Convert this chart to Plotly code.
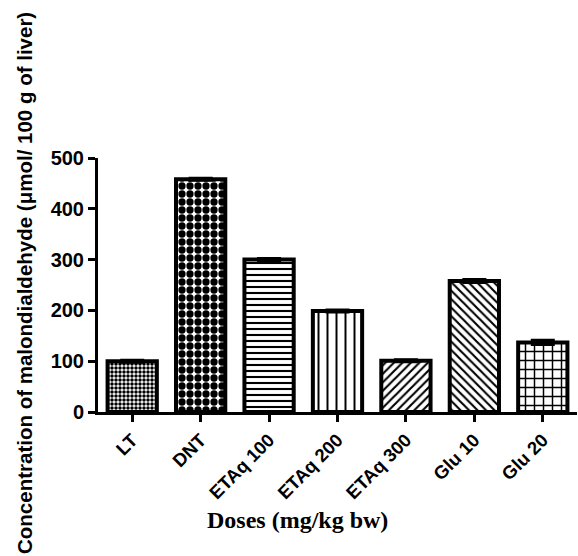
import plotly.graph_objects as go

categories = ["LT", "DNT", "ETAq 100", "ETAq 200", "ETAq 300", "Glu 10", "Glu 20"]
values = [100, 458, 300, 199, 101, 258, 137]
errors = [2, 2, 2, 2, 2, 3, 4]
patterns = [".", ".", "-", "|", "/", "\\", "+"]
pattern_sizes = [4, 8, 6, 9, 6, 6, 9]
pattern_solidity = [0.6, 0.65, 0.35, 0.22, 0.35, 0.35, 0.3]

y_ticks = [0, 100, 200, 300, 400, 500]
y_title = "Concentration of malondialdehyde (\u03bcmol/ 100 g of liver)"
x_title = "Doses (mg/kg bw)"

fig = go.Figure()
fig.add_trace(go.Bar(
    x=categories,
    y=values,
    width=0.72,
    marker=dict(
        color="white",
        line=dict(color="black", width=4),
        pattern=dict(
            shape=patterns,
            size=pattern_sizes,
            solidity=pattern_solidity,
            fgcolor="black",
            bgcolor="white",
            fgopacity=1,
            fillmode="overlay",
        ),
    ),
    error_y=dict(type="data", array=errors, visible=True, color="black",
                 thickness=3, width=12),
    showlegend=False,
))

sans = "Liberation Sans, Arial, sans-serif"
serif = "Liberation Serif, Times New Roman, serif"

fig.update_layout(
    width=578, height=556,
    margin=dict(l=98, r=1, t=158, b=144),
    paper_bgcolor="white", plot_bgcolor="white",
    font=dict(family=sans, color="black"),
    xaxis=dict(
        type="category",
        range=[-0.5, 6.5],
        tickvals=categories,
        ticktext=["<b>" + c + "</b>" for c in categories],
        showline=True, linecolor="black", linewidth=3,
        ticks="outside", ticklen=7, tickwidth=3, tickcolor="black",
        tickangle=-45,
        tickfont=dict(family=sans, size=18.5, color="black"),
        showgrid=False, zeroline=False,
    ),
    yaxis=dict(
        range=[0, 500],
        tickvals=y_ticks,
        ticktext=["<b>" + str(v) + "</b>" for v in y_ticks],
        showline=True, linecolor="black", linewidth=3,
        ticks="outside", ticklen=7, tickwidth=3, tickcolor="black",
        tickfont=dict(family=sans, size=20, color="black"),
        showgrid=False, zeroline=False,
    ),
    annotations=[
        dict(text="<b>" + y_title + "</b>", xref="paper", yref="paper",
             x=(24 - 98) / 479, y=(412 - 283) / 254,
             textangle=-90, showarrow=False,
             xanchor="center", yanchor="middle",
             font=dict(family=sans, size=20.5, color="black")),
        dict(text="<b>" + x_title + "</b>", xref="paper", yref="paper",
             x=(297 - 98) / 479, y=(412 - 520) / 254,
             showarrow=False, xanchor="center", yanchor="middle",
             font=dict(family=serif, size=24, color="black")),
    ],
)

fig.write_html("out.html")
